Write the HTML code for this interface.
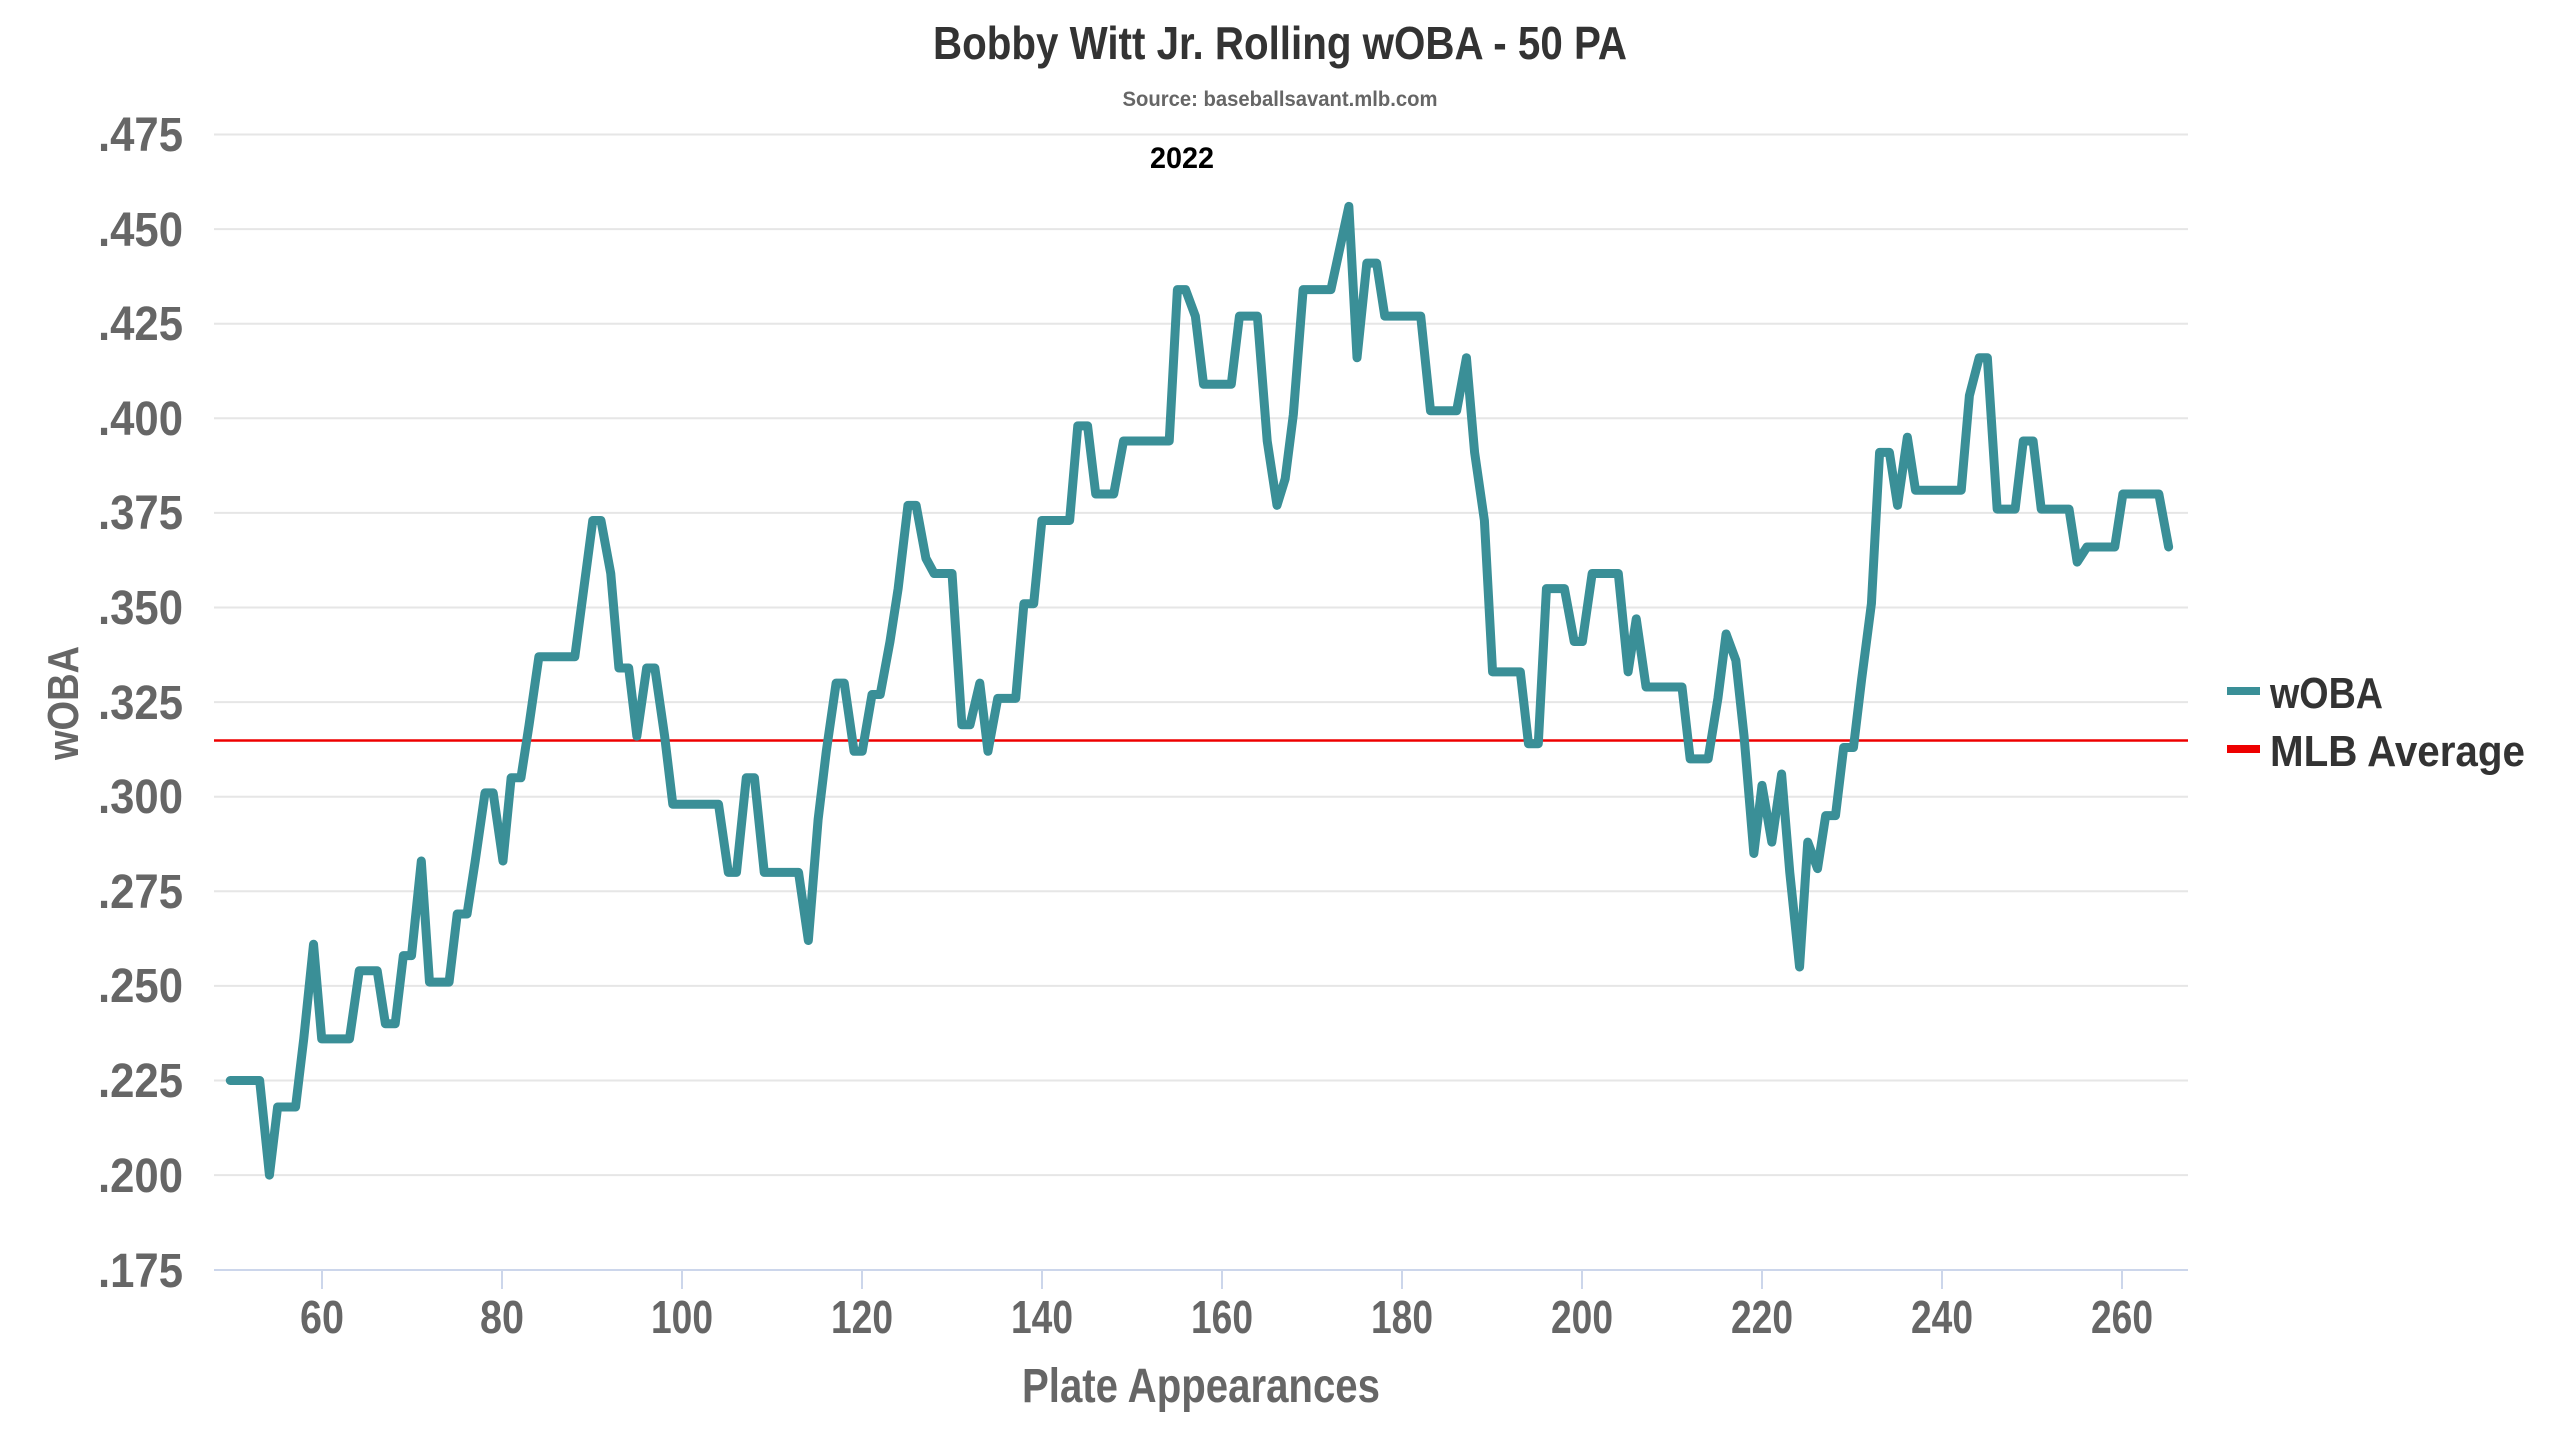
<!DOCTYPE html>
<html><head><meta charset="utf-8"><style>
html,body{margin:0;padding:0;background:#fff;}
svg{display:block;}
text{font-family:"Liberation Sans Narrow","Liberation Sans",sans-serif;font-weight:bold;}
</style></head><body>
<svg width="2560" height="1440" viewBox="0 0 2560 1440" xmlns="http://www.w3.org/2000/svg">
<rect width="2560" height="1440" fill="#fff"/>
<text x="1280" y="59" text-anchor="middle" font-size="46" fill="#333" textLength="694" lengthAdjust="spacingAndGlyphs">Bobby Witt Jr. Rolling wOBA - 50 PA</text>
<text x="1280" y="106" text-anchor="middle" font-size="21" fill="#666" textLength="315" lengthAdjust="spacingAndGlyphs">Source: baseballsavant.mlb.com</text>
<text x="1182" y="168" text-anchor="middle" font-size="30" fill="#000" textLength="64" lengthAdjust="spacingAndGlyphs">2022</text>
<g stroke="#e6e6e6" stroke-width="2">
<line x1="214" x2="2188" y1="134.5" y2="134.5"/>
<line x1="214" x2="2188" y1="229.1" y2="229.1"/>
<line x1="214" x2="2188" y1="323.7" y2="323.7"/>
<line x1="214" x2="2188" y1="418.3" y2="418.3"/>
<line x1="214" x2="2188" y1="512.9" y2="512.9"/>
<line x1="214" x2="2188" y1="607.5" y2="607.5"/>
<line x1="214" x2="2188" y1="702.1" y2="702.1"/>
<line x1="214" x2="2188" y1="796.7" y2="796.7"/>
<line x1="214" x2="2188" y1="891.3" y2="891.3"/>
<line x1="214" x2="2188" y1="985.9" y2="985.9"/>
<line x1="214" x2="2188" y1="1080.5" y2="1080.5"/>
<line x1="214" x2="2188" y1="1175.1" y2="1175.1"/>
</g>
<line x1="214" x2="2188" y1="1270" y2="1270" stroke="#ccd6eb" stroke-width="2"/>
<g stroke="#ccd6eb" stroke-width="2">
<line x1="322" x2="322" y1="1270" y2="1289"/><line x1="502" x2="502" y1="1270" y2="1289"/>
<line x1="682" x2="682" y1="1270" y2="1289"/><line x1="862" x2="862" y1="1270" y2="1289"/>
<line x1="1042" x2="1042" y1="1270" y2="1289"/><line x1="1222" x2="1222" y1="1270" y2="1289"/>
<line x1="1402" x2="1402" y1="1270" y2="1289"/><line x1="1582" x2="1582" y1="1270" y2="1289"/>
<line x1="1762" x2="1762" y1="1270" y2="1289"/><line x1="1942" x2="1942" y1="1270" y2="1289"/>
<line x1="2122" x2="2122" y1="1270" y2="1289"/>
</g>
<g font-size="48" fill="#666" text-anchor="end">
<text x="183" y="151" textLength="85" lengthAdjust="spacingAndGlyphs">.475</text>
<text x="183" y="246" textLength="85" lengthAdjust="spacingAndGlyphs">.450</text>
<text x="183" y="340" textLength="85" lengthAdjust="spacingAndGlyphs">.425</text>
<text x="183" y="435" textLength="85" lengthAdjust="spacingAndGlyphs">.400</text>
<text x="183" y="529" textLength="85" lengthAdjust="spacingAndGlyphs">.375</text>
<text x="183" y="624" textLength="85" lengthAdjust="spacingAndGlyphs">.350</text>
<text x="183" y="719" textLength="85" lengthAdjust="spacingAndGlyphs">.325</text>
<text x="183" y="813" textLength="85" lengthAdjust="spacingAndGlyphs">.300</text>
<text x="183" y="908" textLength="85" lengthAdjust="spacingAndGlyphs">.275</text>
<text x="183" y="1002" textLength="85" lengthAdjust="spacingAndGlyphs">.250</text>
<text x="183" y="1097" textLength="85" lengthAdjust="spacingAndGlyphs">.225</text>
<text x="183" y="1192" textLength="85" lengthAdjust="spacingAndGlyphs">.200</text>
<text x="183" y="1287" textLength="85" lengthAdjust="spacingAndGlyphs">.175</text>
</g>
<g font-size="46" fill="#666" text-anchor="middle">
<text x="322" y="1333" textLength="44" lengthAdjust="spacingAndGlyphs">60</text>
<text x="502" y="1333" textLength="44" lengthAdjust="spacingAndGlyphs">80</text>
<text x="682" y="1333" textLength="62" lengthAdjust="spacingAndGlyphs">100</text>
<text x="862" y="1333" textLength="62" lengthAdjust="spacingAndGlyphs">120</text>
<text x="1042" y="1333" textLength="62" lengthAdjust="spacingAndGlyphs">140</text>
<text x="1222" y="1333" textLength="62" lengthAdjust="spacingAndGlyphs">160</text>
<text x="1402" y="1333" textLength="62" lengthAdjust="spacingAndGlyphs">180</text>
<text x="1582" y="1333" textLength="62" lengthAdjust="spacingAndGlyphs">200</text>
<text x="1762" y="1333" textLength="62" lengthAdjust="spacingAndGlyphs">220</text>
<text x="1942" y="1333" textLength="62" lengthAdjust="spacingAndGlyphs">240</text>
<text x="2122" y="1333" textLength="62" lengthAdjust="spacingAndGlyphs">260</text>
</g>
<text x="1201" y="1402" text-anchor="middle" font-size="48" fill="#666" textLength="358" lengthAdjust="spacingAndGlyphs">Plate Appearances</text>
<text transform="translate(78,703) rotate(-90)" text-anchor="middle" font-size="44" fill="#666" textLength="114" lengthAdjust="spacingAndGlyphs">wOBA</text>
<line x1="214" x2="2188" y1="740.5" y2="740.5" stroke="#ee0000" stroke-width="2.5"/>
<polyline fill="none" stroke="#3a8f97" stroke-width="9" stroke-linejoin="round" stroke-linecap="round" vector-effect="non-scaling-stroke" transform="matrix(1.633 0 0 -3.784 0 1931.9)"
points="141,225 159,225 165,200 170,218 181,218 186,236 192,261 197,236 214,236 220,254 231,254 236,240 242,240 247,258 252,258 258,283 263,251 275,251 280,269 286,269 291,283 297,301 302,301 308,283 313,305 319,305 324,319 330,337 352,337 363,373 368,373 374,359 379,334 385,334 390,316 396,334 401,334 407,316 412,298 440,298 446,280 451,280 457,305 462,305 468,280 489,280 495,262 501,294 506,312 512,330 517,330 523,312 528,312 534,327 539,327 545,341 550,355 556,377 561,377 567,363 572,359 583,359 589,319 594,319 600,330 605,312 611,326 622,326 627,351 633,351 638,373 655,373 660,398 666,398 671,380 682,380 688,394 716,394 721,434 726,434 732,427 737,409 754,409 759,427 770,427 776,394 782,377 787,384 792,401 798,434 815,434 826,456 831,416 837,441 843,441 848,427 870,427 876,402 892,402 898,416 903,391 909,373 914,333 931,333 936,314 942,314 947,355 958,355 964,341 969,341 975,359 991,359 997,333 1002,347 1008,329 1030,329 1035,310 1046,310 1052,326 1057,343 1063,336 1068,316 1074,285 1079,303 1085,288 1091,306 1096,280 1102,255 1107,288 1113,281 1118,295 1124,295 1129,313 1135,313 1140,331 1146,351 1151,391 1157,391 1162,377 1168,395 1173,381 1201,381 1206,406 1212,416 1217,416 1223,376 1234,376 1239,394 1245,394 1250,376 1267,376 1272,362 1278,366 1295,366 1300,380 1322,380 1328,366"/>
<rect x="2227" y="687" width="33" height="8" fill="#3a8f97"/>
<text x="2270" y="708" font-size="44" fill="#333" textLength="113" lengthAdjust="spacingAndGlyphs">wOBA</text>
<rect x="2227" y="745" width="33" height="8" fill="#ee0000"/>
<text x="2270" y="766" font-size="44" fill="#333" textLength="255" lengthAdjust="spacingAndGlyphs">MLB Average</text>
</svg>
</body></html>
